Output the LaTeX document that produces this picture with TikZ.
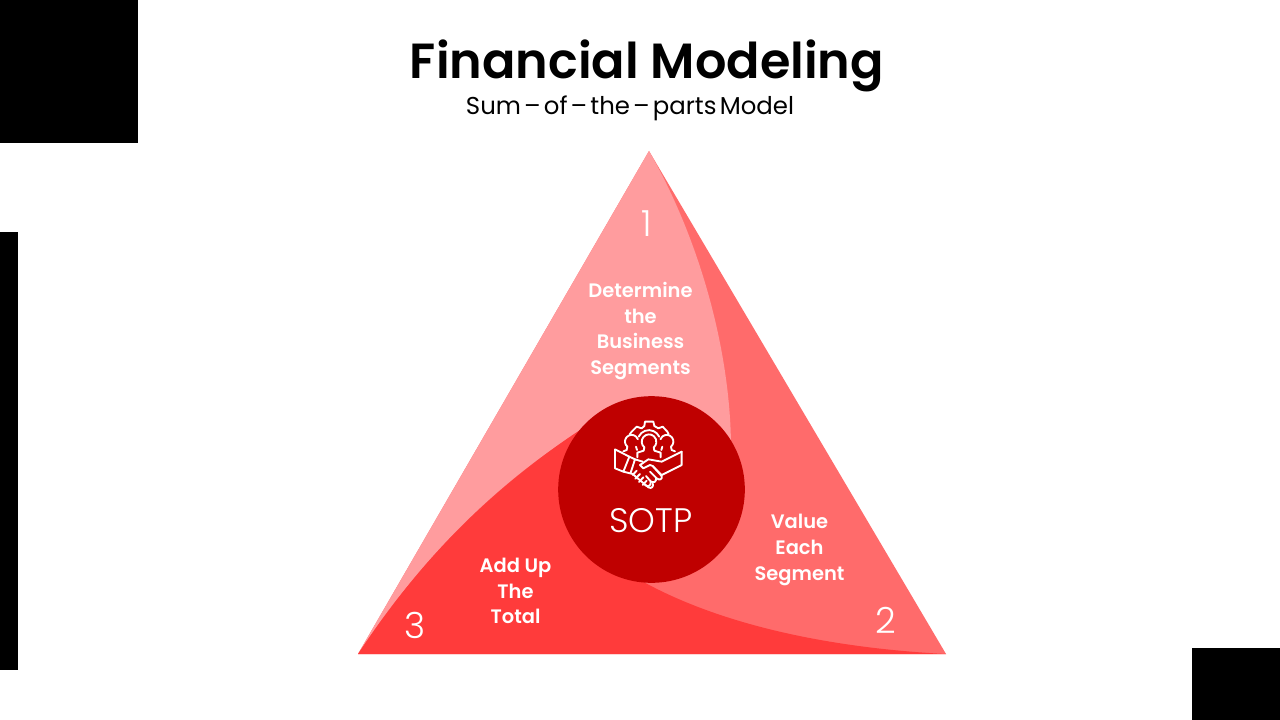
\documentclass[tikz,border=0pt]{standalone}
\usepackage{fontspec}
\setmainfont{Poppins}[UprightFont=*,BoldFont=* SemiBold]
\newfontfamily\lightf{Poppins}[UprightFont=* Light]
\definecolor{lightred}{HTML}{FF9C9E}
\definecolor{midred}{HTML}{FF6B6B}
\definecolor{mainred}{HTML}{FF3B3B}
\definecolor{darkred}{HTML}{BF0000}
\tikzset{
  blackblock/.style={fill=black,draw=none},
  steptext/.style={text=white,font=\bfseries\fontsize{14.6}{19.3}\selectfont,align=center,inner sep=0pt},
  numtext/.style={text=white,font=\lightf\fontsize{27}{30}\selectfont,inner sep=0pt},
  iconline/.style={draw=white,line width=1.4pt,line join=round,line cap=round,fill=none}
}
\begin{document}
\begin{tikzpicture}[x=0.75pt,y=-0.75pt]
\useasboundingbox (0,0) rectangle (1280,720);
\fill[white] (0,0) rectangle (1280,720);
% black blocks
\fill[blackblock] (0,0) rectangle (138,143);
\fill[blackblock] (0,232) rectangle (18,670);
\fill[blackblock] (1192,648) rectangle (1280,720);
% title
\node[inner sep=0pt,anchor=base,font=\bfseries\fontsize{37}{44}\selectfont] (title) at (647,79) {Financial Modeling};
\node[inner sep=0pt,anchor=base,font=\fontsize{18.3}{24}\selectfont] (subtitle) at (630,115) {\spaceskip=0.13em Sum – of – the – parts Model};
% triangle
\coordinate (A) at (649,151);
\coordinate (B) at (946,654);
\coordinate (C) at (358,654);
\fill[midred] (A) -- (B) -- (C) -- cycle;
\fill[lightred] (A) .. controls (700,240) and (730,350) .. (731,445) -- (651,490) -- (570,437) .. controls (490,490) and (420,560) .. (C) -- cycle;
\fill[mainred] (C) .. controls (420,560) and (490,490) .. (580,430) -- (651,490) -- (640,580) .. controls (720,625) and (830,648) .. (B) -- cycle;
% hub
\node[circle,fill=darkred,minimum size=140pt,inner sep=0pt] (hub) at (651.5,489.5) {};
% icon
\begin{scope}[xshift=442.5pt,yshift=-300pt,x=0.25pt,y=-0.25pt]
 % gear
 \draw[iconline] (119,103) -- (125,95) -- (140,80) -- (155,85) -- (163,78) -- (165,65) -- (190,65) -- (193,78) -- (205,85) -- (218,80) -- (232,95) -- (236,103);
 \draw[iconline] (146,110) arc[start angle=205,end angle=335,radius=34];
 % middle person
 \draw[iconline] (163,142) arc[start angle=130,end angle=410,radius=22] -- (193,152) -- (212,158) -- (212,172);
 \draw[iconline] (163,142) -- (161,152) -- (142,158) -- (142,172);
 % left person
 \draw[iconline] (112,140) arc[start angle=130,end angle=340,radius=20];
 \draw[iconline] (112,140) -- (110,150) -- (100,154);
 \draw[iconline] (138,140) -- (141,150);
 % right person
 \draw[iconline] (243,140) arc[start angle=50,end angle=-160,radius=20];
 \draw[iconline] (243,140) -- (245,150) -- (255,154);
 \draw[iconline] (217,140) -- (214,150);
 % left cuff
 \draw[iconline] (75,148) -- (118,170) -- (100,215) -- (75,205) -- cycle;
 \draw[iconline] (118,170) -- (135,178) -- (122,218);
 \draw[iconline] (100,215) -- (128,222);
 \draw[iconline] (135,178) -- (158,185);
 % right sleeve and grip
 \draw[iconline] (275,155) -- (275,195) -- (215,225) -- (188,198);
 \draw[iconline] (275,155) -- (215,185) -- (175,178) -- (150,195) -- (160,205) -- (180,195) -- (188,198);
 \draw[iconline] (188,198) -- (215,228) .. controls (218,238) and (208,242) .. (200,235) -- (180,215);
 \draw[iconline] (198,234) .. controls (200,246) and (190,250) .. (182,244) -- (168,228);
 \draw[iconline] (182,244) .. controls (184,258) and (174,262) .. (165,255);
 % fingers
 \draw[iconline] (128,222) -- (175,262) .. controls (185,268) and (192,258) .. (188,250);
 \draw[iconline] (140,212) -- (128,225);
 \draw[iconline] (150,222) -- (136,236);
 \draw[iconline] (160,232) -- (147,246);
 \draw[iconline] (170,242) -- (158,255);
\end{scope}
\node[text=white,inner sep=0pt,font=\lightf\fontsize{25.5}{28}\selectfont] (sotp) at (651,520.5) {SOTP};
% labels
\node[numtext] (n1) at (646.5,224) {1};
\node[numtext] (n2) at (885.5,620) {2};
\node[numtext] (n3) at (415,625) {3};
\node[steptext] (s1) at (640.5,331) {Determine\\the\\Business\\Segments};
\node[steptext] (s2) at (799.5,550) {Value\\Each\\Segment};
\node[steptext] (s3) at (515.5,591) {Add Up\\The\\Total};
\end{tikzpicture}
\end{document}
